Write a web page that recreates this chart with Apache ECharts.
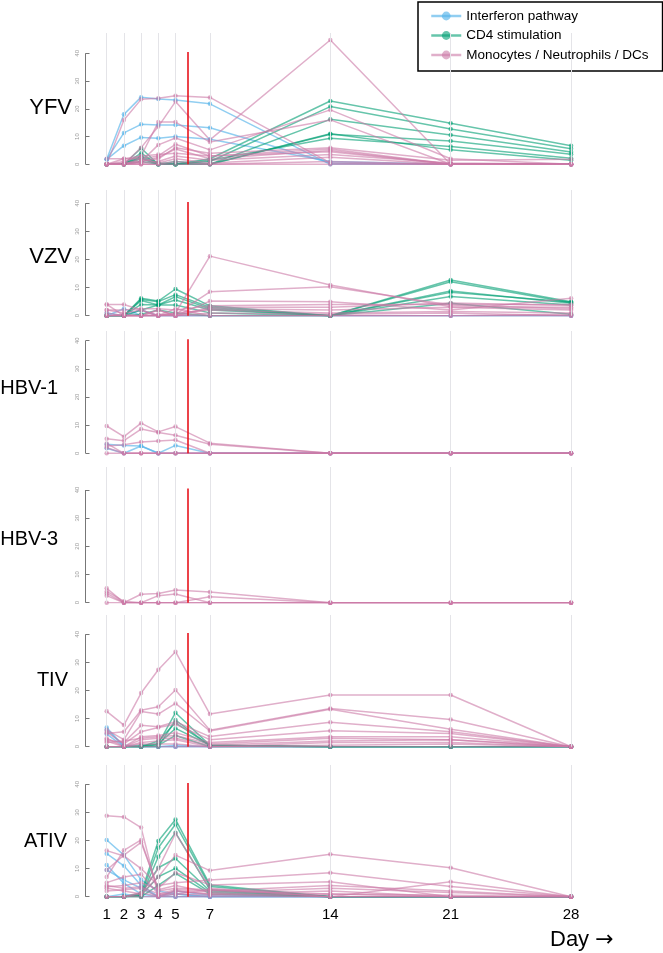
<!DOCTYPE html>
<html>
<head>
<meta charset="utf-8">
<script src="https://cdn.jsdelivr.net/npm/echarts@6/dist/echarts.min.js"></script>
<style>
html,body{margin:0;padding:0;background:#fff;}
#chart{width:663px;height:953px;}
</style>
</head>
<body>
<div id="chart"></div>
<script>
// ---------------- data ----------------
const DAYS = [1, 2, 3, 4, 5, 7, 14, 21, 28];
const PANELS = ['YFV', 'VZV', 'HBV-1', 'HBV-3', 'TIV', 'ATIV'];
const CATEGORIES = ['Interferon pathway', 'CD4 stimulation', 'Monocytes / Neutrophils / DCs'];
const Y_TICKS = [0, 10, 20, 30, 40];
const VACCINE_MARK_DAY = 5.7;
const VACCINE_MARK_TOP = 40.5;

const yfvInterferon = [
  [1.8, 18, 24.2, 23.5, 23.2, 21.8, 0, 0, 0],
  [1.8, 11.3, 14.4, 14.2, 14.2, 13.2, 0.5, 0, 0],
  [1.8, 6.7, 9.7, 9.4, 10, 9, 1, 0, 0]
];
const yfvCD4 = [
  [0, 0, 5.8, 0, 0, 2, 22.8, 14.8, 6.7],
  [0, 0, 4, 0, 0, 1, 20.8, 12.7, 5.6],
  [0, 0, 3, 0.5, 0, 0, 16.2, 10.6, 4.4],
  [0, 0, 2, 0, 0, 0, 10.8, 8.4, 3.6],
  [0, 0, 1, 0, 0, 1.5, 9.4, 6.4, 2.2],
  [0, 0, 2.5, 0, 1, 0, 11, 5.2, 1.5]
];
const yfvMono = [
  [0, 16, 23.4, 23.8, 24.7, 24.1, 0.5, 0, 0],
  [0, 0, 6, 13.6, 22.6, 8.8, 44.8, 0, 0],
  [0, 1, 3, 15.2, 15.2, 8, 16, 0, 0],
  [0, 0, 1, 7, 9.5, 5.2, 19.6, 2, 0],
  [0, 2, 2, 3, 7.2, 3, 5.5, 0, 0],
  [0, 0, 1, 2.5, 5.5, 2, 5, 0, 0],
  [2, 2, 3, 3.5, 4, 3, 4.5, 0, 0],
  [0, 0, 0.5, 1, 3, 1.5, 3.5, 0.5, 0],
  [0, 0, 2, 0.5, 2, 0.5, 2.5, 0, 0],
  [0, 0, 0, 0, 1, 0, 1, 0, 0],
  [0, 0.5, 1, 2, 6, 4, 6, 1.5, 1.8],
  [0, 0, 0, 0, 0, 0, 0, 0, 0]
];

const vzvInterferon = [
  [0, 2.5, 0, 0, 0, 0, 0, 0, 0],
  [1, 0, 2, 0, 0, 0, 0, 0, 0]
];
const vzvCD4 = [
  [0, 0, 6.2, 5.2, 9.5, 3.5, 0, 12.7, 5],
  [0, 0, 5.8, 5, 7.5, 3, 0, 12.1, 4.6],
  [0, 0, 5.4, 3.8, 6.8, 2.5, 0, 8.8, 4.4],
  [0, 0, 4, 3.8, 5.6, 2, 0, 8.3, 4.9],
  [0, 0, 2, 3.8, 3.8, 1, 0, 6.8, 3.8],
  [0, 0, 0.5, 2, 1, 0, 0, 4.4, 0.5]
];
const vzvMono = [
  [0, 0, 0, 0, 1, 21.2, 10.9, 3.2, 3],
  [0, 0, 0, 0, 0.5, 8.5, 10.3, 3.8, 2.5],
  [4, 4, 2, 0, 0, 5.2, 5, 2, 6.2],
  [2, 2, 2.5, 2.5, 2, 3.5, 4, 4, 4],
  [4, 0, 0, 2, 0, 3, 3, 4.5, 3.6],
  [0, 0, 0, 2, 0, 2.5, 2, 3, 2],
  [2, 1, 2, 0, 1, 2, 1, 1.5, 1],
  [0, 0, 0, 0, 0, 0, 0, 0, 0],
  [0, 0.5, 0, 0.5, 0, 1, 0.5, 1, 0],
  [1, 0, 0, 0, 2.5, 0, 0, 0, 0.5]
];

const hbv1Interferon = [
  [3.2, 2.8, 2.6, 0, 2.8, 0, 0, 0, 0],
  [1.8, 0, 2.6, 0, 0, 0, 0, 0, 0]
];
const hbv1CD4 = [];
const hbv1Mono = [
  [9.7, 5.9, 10.7, 7.6, 9.5, 3.6, 0, 0, 0],
  [5.2, 4.5, 8.6, 7.4, 6.4, 3.2, 0, 0, 0],
  [2.6, 3, 4, 4.4, 4.7, 0, 0, 0, 0],
  [3.5, 0, 0, 0, 0, 0, 0, 0, 0],
  [0, 0, 0, 0, 0, 0, 0, 0, 0],
  [2, 0, 0, 0, 0, 0, 0, 0, 0]
];

const hbv3Interferon = [];
const hbv3CD4 = [];
const hbv3Mono = [
  [5.1, 0, 3, 3.3, 4.5, 3.8, 0, 0, 0],
  [3.3, 0, 0, 2.5, 3.1, 0, 0, 0, 0],
  [2.5, 0, 0, 0, 0, 2.1, 0, 0, 0],
  [0, 0, 0, 0, 0, 0, 0, 0, 0],
  [4, 0.5, 0, 0, 0, 0, 0, 0, 0]
];

const tivInterferon = [
  [6.8, 0, 0, 0, 0, 0, 0, 0, 0],
  [5.9, 0.5, 0, 0, 0, 0, 0, 0, 0],
  [4.5, 0, 0, 0, 0.5, 0, 0, 0, 0]
];
const tivCD4 = [
  [0, 0, 0, 1, 12.1, 0.5, 0, 0, 0],
  [0, 0, 0, 0, 9.5, 0.3, 0, 0, 0],
  [0, 0, 0, 2, 8.5, 0.5, 0, 0, 0],
  [0, 0, 0.5, 1, 6.5, 0.5, 0, 0, 0],
  [0, 0, 0, 0.5, 4, 0, 0, 0, 0]
];
const tivMono = [
  [12.6, 7.7, 19.1, 27.4, 33.8, 11.6, 18.4, 18.4, 0],
  [4.7, 5.3, 13, 14.2, 20.2, 5.9, 13.6, 9.7, 0],
  [6, 2.5, 12.5, 11.6, 15.4, 5.6, 13.3, 6.2, 0],
  [2.5, 1.5, 7.6, 7.1, 8.9, 3.6, 8.7, 5.3, 0],
  [5.2, 1, 5.3, 6.8, 8, 2.5, 5.7, 4.7, 0],
  [3, 0, 3.5, 4, 5, 1.5, 3.5, 3.5, 0],
  [1.5, 2, 3, 3.5, 4, 1, 3, 2.5, 0],
  [0, 0, 2.5, 3, 3, 0.5, 2, 2.5, 0],
  [2, 0, 1.5, 2, 2.5, 0, 1.5, 1.5, 0],
  [0, 0, 0, 0, 0, 0, 0.5, 1, 0],
  [0, 0, 1, 1, 1, 0, 0, 0, 0]
];

const ativInterferon = [
  [20.2, 14.8, 6, 2, 1, 0, 0, 0, 0],
  [15.3, 11, 4, 0, 0, 0, 0, 0, 0],
  [11.3, 4.7, 1, 0, 0, 0, 0, 0, 0],
  [9.5, 6, 3, 0, 1, 0, 0, 0, 0],
  [0, 1, 0, 0, 2, 0.5, 0, 0, 0]
];
const ativCD4 = [
  [0, 0, 1.2, 19.8, 27.5, 4.2, 0, 0, 0],
  [0, 0, 0.5, 17.4, 25.8, 3.6, 0, 0, 0],
  [0, 0, 0, 14.2, 22.8, 2.5, 0, 0, 0],
  [0, 0, 1, 10.3, 13.6, 2, 0, 0, 0],
  [0, 0, 0.5, 7.1, 10.1, 1.5, 0, 0, 0],
  [0, 0, 0, 4, 8.3, 1, 0, 0, 0]
];
const ativMono = [
  [28.8, 28.4, 24.6, 0.5, 2, 1, 0, 0, 0],
  [3, 2, 1, 7, 14.8, 9.3, 15.1, 10.3, 0],
  [16.4, 14.5, 10, 4, 5, 5.9, 8.5, 3.6, 0],
  [9.5, 14.8, 19.3, 3, 8.5, 4.2, 5.3, 0, 0],
  [7, 16.5, 20.2, 2, 3, 2.5, 0, 5.3, 0],
  [0, 0, 1, 10, 22.5, 3, 0, 0, 0],
  [5, 7, 8, 1, 2.5, 2, 4, 2, 0],
  [3.5, 4, 5, 2.5, 4, 1.5, 3, 1.5, 0],
  [2, 2.5, 3, 0, 2, 1, 2, 0, 0],
  [0, 0, 1.5, 0, 1, 0.5, 1, 0.5, 0],
  [0, 0, 0, 0, 0, 0, 0, 0, 0],
  [4, 3, 3.5, 1, 1, 2.5, 1, 0, 0]
];

const PANEL_DATA = [
  [yfvInterferon, yfvCD4, yfvMono],
  [vzvInterferon, vzvCD4, vzvMono],
  [hbv1Interferon, hbv1CD4, hbv1Mono],
  [hbv3Interferon, hbv3CD4, hbv3Mono],
  [tivInterferon, tivCD4, tivMono],
  [ativInterferon, ativCD4, ativMono]
];

// ---------------- layout / style ----------------
const COLORS = ['rgba(86,180,233,0.65)', 'rgba(0,158,115,0.6)', 'rgba(204,121,167,0.6)'];
const DRAW_ORDER = [0, 1, 2];
const X_MIN = -0.25, X_MAX = 30;
const GRID_LEFT = 85.2, GRID_WIDTH = 520.3;
// per panel: pixel y of value 0, pixel y of value 40, pixel y of top of day grid lines
const PANEL_GEOM = [
  {zero: 164.3, y40: 53.3, top: 33},
  {zero: 315.7, y40: 203.3, top: 190},
  {zero: 453.3, y40: 340.7, top: 331},
  {zero: 602.7, y40: 490.0, top: 467},
  {zero: 746.7, y40: 634.3, top: 615},
  {zero: 896.7, y40: 784.3, top: 765}
];
const LABEL_POS = [
  {right: 72, cy: 108, size: 22},
  {right: 72, cy: 257, size: 22},
  {right: 58, cy: 388, size: 20},
  {right: 58, cy: 539, size: 20},
  {right: 68, cy: 680, size: 20},
  {right: 67, cy: 841, size: 20}
];
const FONT = 'Liberation Sans, Arial, sans-serif';

const grids = [], xAxes = [], yAxes = [], series = [], graphics = [];

PANELS.forEach((name, i) => {
  const g = PANEL_GEOM[i];
  const yMax = 40 * (g.zero - g.top) / (g.zero - g.y40);
  grids.push({left: GRID_LEFT, width: GRID_WIDTH, top: g.top, height: g.zero - g.top});
  const last = i === PANELS.length - 1;
  xAxes.push({
    gridIndex: i, type: 'value', min: X_MIN, max: X_MAX,
    axisLine: {show: false}, axisTick: {show: false}, splitLine: {show: false},
    axisLabel: last ? {show: true, customValues: DAYS, color: '#000', fontSize: 15,
      fontFamily: FONT, margin: 11} : {show: false}
  });
  yAxes.push({
    gridIndex: i, type: 'value', min: 0, max: yMax,
    axisLine: {show: false}, splitLine: {show: false},
    axisTick: {show: true, customValues: Y_TICKS, length: 4, lineStyle: {color: '#777', width: 1}},
    axisLabel: {show: true, customValues: Y_TICKS, rotate: 90, fontSize: 6, color: '#999',
      fontFamily: FONT, margin: 5}
  });
  // day grid lines + y axis line
  series.push({
    type: 'line', xAxisIndex: i, yAxisIndex: i, data: [], z: 1, silent: true,
    markLine: {
      silent: true, symbol: 'none', animation: false, label: {show: false},
      lineStyle: {color: '#e4e4e8', width: 1, type: 'solid'},
      data: DAYS.map(d => ({xAxis: d})).concat([
        [{coord: [X_MIN, 0], lineStyle: {color: '#777', width: 1}},
         {coord: [X_MIN, 40]}]
      ])
    }
  });
  // data lines
  DRAW_ORDER.forEach(c => {
    PANEL_DATA[i][c].forEach(vals => {
      series.push({
        type: 'line', name: CATEGORIES[c], xAxisIndex: i, yAxisIndex: i,
        data: DAYS.map((d, k) => [d, vals[k]]),
        symbol: 'circle', symbolSize: 4.5, showSymbol: true,
        lineStyle: {color: COLORS[c], width: 1.5},
        itemStyle: {color: COLORS[c], borderWidth: 0},
        z: 2, silent: true, animation: false
      });
    });
  });
  // vaccination marker (red line)
  series.push({
    type: 'line', xAxisIndex: i, yAxisIndex: i, data: [], z: 5, silent: true,
    markLine: {
      silent: true, symbol: 'none', animation: false, label: {show: false},
      lineStyle: {color: '#e8141c', width: 1.6, type: 'solid'},
      data: [[{coord: [VACCINE_MARK_DAY, 0]}, {coord: [VACCINE_MARK_DAY, VACCINE_MARK_TOP]}]]
    }
  });
  const lp = LABEL_POS[i];
  graphics.push({
    type: 'text', x: lp.right, y: lp.cy,
    style: {text: name, fill: '#000', fontSize: lp.size, fontFamily: FONT,
      align: 'right', verticalAlign: 'middle'}
  });
});

graphics.push({
  type: 'text', x: 550, y: 940,
  style: {
    text: '{a|Day }{b|\u2192}', align: 'left', verticalAlign: 'middle',
    rich: {
      a: {fontSize: 22, fontFamily: FONT, fill: '#000', color: '#000'},
      b: {fontSize: 22, fontFamily: 'DejaVu Sans, sans-serif', fill: '#000', color: '#000'}
    }
  }
});

const chart = echarts.init(document.getElementById('chart'), null, {renderer: 'canvas'});
chart.setOption({
  animation: false,
  backgroundColor: '#fff',
  grid: grids,
  xAxis: xAxes,
  yAxis: yAxes,
  legend: {
    data: CATEGORIES, orient: 'vertical', left: 418, top: 2,
    backgroundColor: '#fff', borderColor: '#000', borderWidth: 1.5, borderRadius: 0,
    padding: [7, 14, 9, 12], itemWidth: 30, itemHeight: 11, itemGap: 5.5,
    selectedMode: false,
    lineStyle: {width: 2.5},
    textStyle: {fontSize: 13.5, color: '#000', fontFamily: FONT}
  },
  series: series,
  graphic: graphics
});
</script>
</body>
</html>
